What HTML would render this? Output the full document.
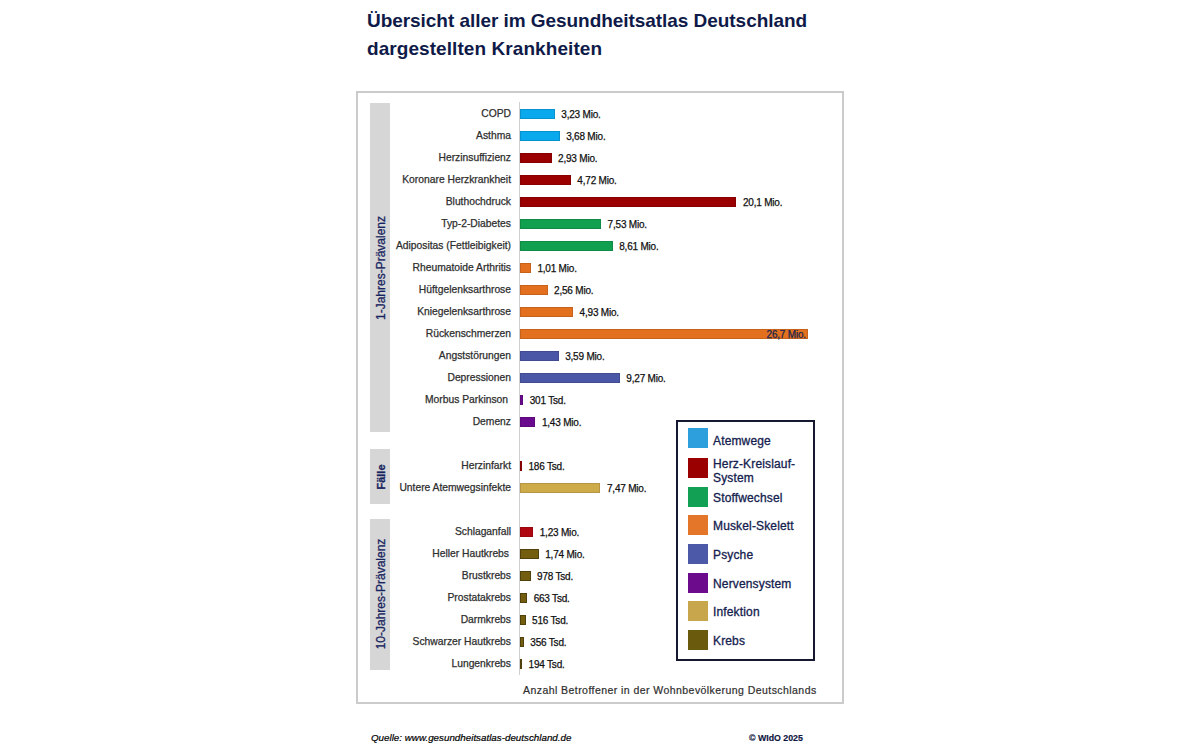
<!DOCTYPE html>
<html><head><meta charset="utf-8">
<style>
html,body{margin:0;padding:0;background:#fff;width:1200px;height:750px;overflow:hidden;position:relative;font-family:"Liberation Sans",sans-serif;}
.a{position:absolute;}
.t{position:absolute;left:367px;font-weight:bold;font-size:19px;color:#0f1a48;white-space:nowrap;line-height:1;}
.frame{position:absolute;left:356px;top:91px;width:488px;height:613px;border:2px solid #cbcbcb;box-sizing:border-box;}
.side{position:absolute;left:370px;width:20px;background:#d6d6d6;}
.vt{position:absolute;white-space:nowrap;color:#16245e;-webkit-text-stroke:0.3px #16245e;line-height:1;transform:translate(-50%,-50%) rotate(-90deg);}
.axis{position:absolute;left:519px;top:102px;width:1px;height:573px;background:#d0d0d0;}
.lab{position:absolute;right:689px;font-size:10.3px;color:#2e2e2e;-webkit-text-stroke:0.25px #2e2e2e;white-space:nowrap;line-height:12px;}
.bar{position:absolute;left:520px;height:10px;}
.val{position:absolute;font-size:10px;letter-spacing:-0.2px;color:#111;-webkit-text-stroke:0.25px #111;white-space:nowrap;line-height:12px;}
.leg{position:absolute;left:676px;top:420px;width:139px;height:240.5px;border:2px solid #15182e;box-sizing:border-box;}
.sw{position:absolute;left:688px;width:20px;height:20px;}
.lt{position:absolute;left:713px;font-size:12px;letter-spacing:0.15px;color:#14214e;-webkit-text-stroke:0.3px #14214e;white-space:nowrap;line-height:14px;}
</style></head><body>
<div class="t" style="top:10.5px;letter-spacing:-0.05px">Übersicht aller im Gesundheitsatlas Deutschland</div>
<div class="t" style="top:39px;letter-spacing:0.07px">dargestellten Krankheiten</div>
<div class="frame"></div>
<div class="side" style="top:103px;height:329px"></div>
<div class="side" style="top:449px;height:55px"></div>
<div class="side" style="top:519px;height:151px"></div>
<div class="vt" style="left:381px;top:268px;font-size:12px">1-Jahres-Prävalenz</div>
<div class="vt" style="left:381px;top:477px;font-size:11px;font-weight:bold">Fälle</div>
<div class="vt" style="left:381px;top:594px;font-size:12px">10-Jahres-Prävalenz</div>
<div class="axis"></div>

<div class="lab" style="top:108px;right:689px">COPD</div>
<div class="bar" style="top:109px;width:34.79px;background:#0aa8ec;box-shadow:inset 0 0 0 1px #0893cf"></div>
<div class="val" style="top:109px;left:561.29px">3,23 Mio.</div>
<div class="lab" style="top:130px;right:689px">Asthma</div>
<div class="bar" style="top:131px;width:39.63px;background:#0aa8ec;box-shadow:inset 0 0 0 1px #0893cf"></div>
<div class="val" style="top:131px;left:566.13px">3,68 Mio.</div>
<div class="lab" style="top:152px;right:689px">Herzinsuffizienz</div>
<div class="bar" style="top:153px;width:31.56px;background:#9a0000;box-shadow:inset 0 0 0 1px #870000"></div>
<div class="val" style="top:153px;left:558.06px">2,93 Mio.</div>
<div class="lab" style="top:174px;right:689px">Koronare Herzkrankheit</div>
<div class="bar" style="top:175px;width:50.83px;background:#9a0000;box-shadow:inset 0 0 0 1px #870000"></div>
<div class="val" style="top:175px;left:577.33px">4,72 Mio.</div>
<div class="lab" style="top:196px;right:689px">Bluthochdruck</div>
<div class="bar" style="top:197px;width:216.48px;background:#9a0000;box-shadow:inset 0 0 0 1px #870000"></div>
<div class="val" style="top:197px;left:742.98px">20,1 Mio.</div>
<div class="lab" style="top:218px;right:689px">Typ-2-Diabetes</div>
<div class="bar" style="top:219px;width:81.10px;background:#10a050;box-shadow:inset 0 0 0 1px #0e8c46"></div>
<div class="val" style="top:219px;left:607.60px">7,53 Mio.</div>
<div class="lab" style="top:240px;right:689px">Adipositas (Fettleibigkeit)</div>
<div class="bar" style="top:241px;width:92.73px;background:#10a050;box-shadow:inset 0 0 0 1px #0e8c46"></div>
<div class="val" style="top:241px;left:619.23px">8,61 Mio.</div>
<div class="lab" style="top:262px;right:689px">Rheumatoide Arthritis</div>
<div class="bar" style="top:263px;width:10.88px;background:#e2701e;box-shadow:inset 0 0 0 1px #c6621a"></div>
<div class="val" style="top:263px;left:537.38px">1,01 Mio.</div>
<div class="lab" style="top:284px;right:689px">Hüftgelenksarthrose</div>
<div class="bar" style="top:285px;width:27.57px;background:#e2701e;box-shadow:inset 0 0 0 1px #c6621a"></div>
<div class="val" style="top:285px;left:554.07px">2,56 Mio.</div>
<div class="lab" style="top:306px;right:689px">Kniegelenksarthrose</div>
<div class="bar" style="top:307px;width:53.10px;background:#e2701e;box-shadow:inset 0 0 0 1px #c6621a"></div>
<div class="val" style="top:307px;left:579.60px">4,93 Mio.</div>
<div class="lab" style="top:328px;right:689px">Rückenschmerzen</div>
<div class="bar" style="top:329px;width:287.56px;background:#e2701e;box-shadow:inset 0 0 0 1px #c6621a"></div>
<div class="val" style="top:329px;left:766.56px;color:#1a2550;-webkit-text-stroke:0.25px #1a2550">26,7 Mio.</div>
<div class="lab" style="top:350px;right:689px">Angststörungen</div>
<div class="bar" style="top:351px;width:38.66px;background:#4a56a6;box-shadow:inset 0 0 0 1px #414b92"></div>
<div class="val" style="top:351px;left:565.16px">3,59 Mio.</div>
<div class="lab" style="top:372px;right:689px">Depressionen</div>
<div class="bar" style="top:373px;width:99.84px;background:#4a56a6;box-shadow:inset 0 0 0 1px #414b92"></div>
<div class="val" style="top:373px;left:626.34px">9,27 Mio.</div>
<div class="lab" style="top:394px;right:692px">Morbus Parkinson</div>
<div class="bar" style="top:395px;width:3.24px;background:#6a0a8e;box-shadow:inset 0 0 0 1px #5d087c"></div>
<div class="val" style="top:395px;left:529.74px">301 Tsd.</div>
<div class="lab" style="top:416px;right:689px">Demenz</div>
<div class="bar" style="top:417px;width:15.40px;background:#6a0a8e;box-shadow:inset 0 0 0 1px #5d087c"></div>
<div class="val" style="top:417px;left:541.90px">1,43 Mio.</div>
<div class="lab" style="top:460px;right:689px">Herzinfarkt</div>
<div class="bar" style="top:461px;width:2.00px;background:#9a0000;box-shadow:inset 0 0 0 1px #870000"></div>
<div class="val" style="top:461px;left:528.50px">186 Tsd.</div>
<div class="lab" style="top:482px;right:689px">Untere Atemwegsinfekte</div>
<div class="bar" style="top:483px;width:80.45px;background:#cdab4a;box-shadow:inset 0 0 0 1px #b49641"></div>
<div class="val" style="top:483px;left:606.95px">7,47 Mio.</div>
<div class="lab" style="top:526px;right:689px">Schlaganfall</div>
<div class="bar" style="top:527px;width:13.25px;background:#b00812;box-shadow:inset 0 0 0 1px #9a070f"></div>
<div class="val" style="top:527px;left:539.75px">1,23 Mio.</div>
<div class="lab" style="top:548px;right:691px">Heller Hautkrebs</div>
<div class="bar" style="top:549px;width:18.74px;background:#725e0e;box-shadow:inset 0 0 0 1px #4f4109"></div>
<div class="val" style="top:549px;left:545.24px">1,74 Mio.</div>
<div class="lab" style="top:570px;right:689px">Brustkrebs</div>
<div class="bar" style="top:571px;width:10.53px;background:#725e0e;box-shadow:inset 0 0 0 1px #4f4109"></div>
<div class="val" style="top:571px;left:537.03px">978 Tsd.</div>
<div class="lab" style="top:592px;right:689px">Prostatakrebs</div>
<div class="bar" style="top:593px;width:7.14px;background:#725e0e;box-shadow:inset 0 0 0 1px #4f4109"></div>
<div class="val" style="top:593px;left:533.64px">663 Tsd.</div>
<div class="lab" style="top:614px;right:689px">Darmkrebs</div>
<div class="bar" style="top:615px;width:5.56px;background:#725e0e;box-shadow:inset 0 0 0 1px #4f4109"></div>
<div class="val" style="top:615px;left:532.06px">516 Tsd.</div>
<div class="lab" style="top:636px;right:689px">Schwarzer Hautkrebs</div>
<div class="bar" style="top:637px;width:3.83px;background:#725e0e;box-shadow:inset 0 0 0 1px #4f4109"></div>
<div class="val" style="top:637px;left:530.33px">356 Tsd.</div>
<div class="lab" style="top:658px;right:689px">Lungenkrebs</div>
<div class="bar" style="top:659px;width:2.09px;background:#725e0e;box-shadow:inset 0 0 0 1px #4f4109"></div>
<div class="val" style="top:659px;left:528.59px">194 Tsd.</div>
<div class="leg"></div>
<div class="sw" style="top:428px;background:#2c9fdc"></div>
<div class="lt" style="top:433.5px">Atemwege</div>
<div class="sw" style="top:458px;background:#9a0000"></div>
<div class="lt" style="top:456.5px">Herz-Kreislauf-<br>System</div>
<div class="sw" style="top:487px;background:#12a055"></div>
<div class="lt" style="top:491px">Stoffwechsel</div>
<div class="sw" style="top:515px;background:#e4762a"></div>
<div class="lt" style="top:519px">Muskel-Skelett</div>
<div class="sw" style="top:544px;background:#4c59a8"></div>
<div class="lt" style="top:548px">Psyche</div>
<div class="sw" style="top:573px;background:#6c0c8c"></div>
<div class="lt" style="top:577px">Nervensystem</div>
<div class="sw" style="top:601px;background:#c8a64c"></div>
<div class="lt" style="top:605px">Infektion</div>
<div class="sw" style="top:630px;background:#6a5a0e"></div>
<div class="lt" style="top:634px">Krebs</div>
<div class="a" style="left:523px;top:684px;font-size:10.5px;letter-spacing:0.44px;color:#2e2e2e;-webkit-text-stroke:0.2px #2e2e2e;white-space:nowrap;line-height:12px">Anzahl Betroffener in der Wohnbevölkerung Deutschlands</div>
<div class="a" style="left:371px;top:732px;font-size:9.8px;font-style:italic;color:#000;-webkit-text-stroke:0.2px #000;white-space:nowrap;line-height:12px">Quelle: www.gesundheitsatlas-deutschland.de</div>
<div class="a" style="left:749px;top:732px;font-size:8.8px;font-weight:bold;color:#0c1440;-webkit-text-stroke:0.15px #0c1440;white-space:nowrap;line-height:12px">© WIdO 2025</div>
</body></html>
